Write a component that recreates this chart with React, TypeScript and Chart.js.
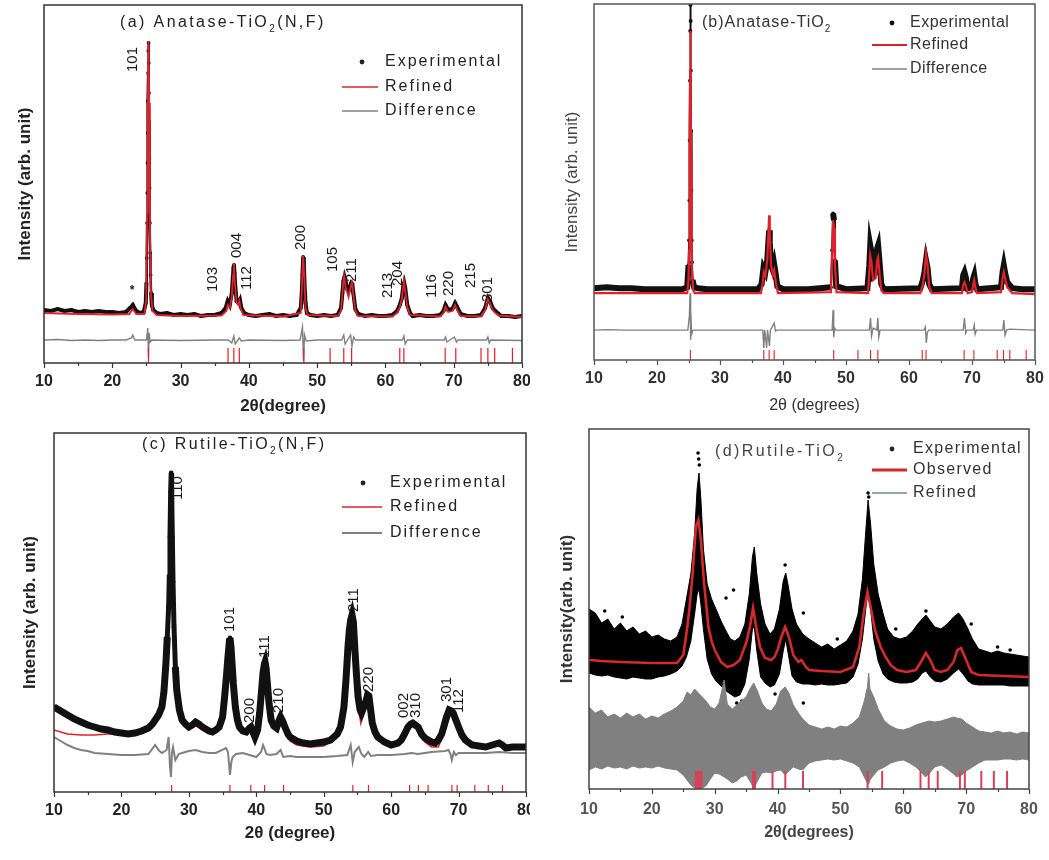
import React, { useEffect, useRef } from 'react';
import { Chart, registerables } from 'chart.js';
Chart.register(...registerables);

const FONT = '"Liberation Sans", Arial, Helvetica, sans-serif';
const RED = '#e0202a';
const GRAY = '#808080';

type Pt = [number, number];

// ---------------- (a) Anatase-TiO2(N,F) ----------------
const A_EXP: Pt[] = [[10,53],[11,52],[12,54],[13,52],[14,53],[15,51],[16,52],[17,51],[18,52],[19,51],[20,51],[21,50],[22,51],[22.6,55],[23.0,58],[23.4,53],[24.0,50],[24.6,51],[24.9,60],[25.0,80],[25.05,105],[25.1,140],[25.13,170],[25.16,200],[25.19,230],[25.22,262],[25.25,290],[25.28,312],[25.31,320],[25.34,300],[25.37,270],[25.4,240],[25.43,205],[25.46,175],[25.5,140],[25.55,110],[25.6,88],[25.68,70],[25.8,58],[26.0,53],[26.5,50],[27,49],[28,50],[29,48],[30,49],[31,48],[32,49],[33,47],[34,48],[35,48],[36,50],[36.6,55],[36.9,62],[37.2,58],[37.5,70],[37.65,85],[37.75,95],[37.82,98],[37.9,90],[38.0,78],[38.2,62],[38.5,60],[38.7,63],[38.9,55],[39.3,50],[40,48],[41,47],[42,48],[43,49],[44,47],[45,48],[46,47],[47,48],[47.6,55],[47.75,70],[47.85,88],[47.95,106],[48.05,100],[48.15,80],[48.3,60],[48.5,50],[49,48],[50,47],[51,48],[52,47],[53,48],[53.5,55],[53.7,70],[53.85,82],[54.0,86],[54.2,80],[54.4,74],[54.6,72],[54.8,76],[55.0,80],[55.15,79],[55.3,70],[55.6,54],[56,49],[57,47],[58,48],[59,47],[60,47],[61,48],[61.7,52],[62.1,58],[62.4,65],[62.6,76],[62.75,80],[62.9,75],[63.2,58],[63.6,50],[64,47],[65,48],[66,47],[67,47],[68,48],[68.5,52],[68.8,58],[69.2,53],[69.8,54],[70.2,60],[70.5,56],[71,49],[72,47],[73,47],[74,48],[74.6,55],[75.0,65],[75.3,62],[75.7,55],[76.1,52],[76.6,49],[77,47],[78,47],[79,46],[80,47]];
const A_REF: Pt[] = [[10,50],[15,49],[20,48.5],[22.5,49],[23.0,54],[23.5,49],[24.7,49],[24.95,62],[25.1,150],[25.2,260],[25.3,322],[25.4,260],[25.5,140],[25.65,70],[25.9,52],[26.5,48],[30,47],[36,47.5],[36.7,52],[36.9,58],[37.2,55],[37.5,66],[37.7,88],[37.8,99],[37.95,80],[38.2,60],[38.45,58],[38.6,62],[38.8,55],[39.2,48],[45,46.5],[47.6,50],[47.8,80],[47.95,107],[48.1,90],[48.3,55],[48.6,48],[53,47],[53.5,52],[53.8,78],[53.95,87],[54.2,75],[54.6,66],[54.9,76],[55.1,81],[55.3,68],[55.6,52],[56,47],[61,46.5],[61.7,50],[62.1,56],[62.4,64],[62.7,82],[62.9,72],[63.2,56],[63.6,48],[68,46.5],[68.5,50],[68.8,56],[69.2,51],[69.8,52],[70.2,58],[70.5,53],[71,47],[74,46.5],[74.6,53],[75.0,64],[75.3,60],[75.7,53],[76.1,50],[76.6,47.5],[80,46]];
const A_DIFF: Pt[] = [[10,23],[12,23.5],[14,22.5],[16,23],[18,22.5],[20,23],[22,23],[22.8,25],[23.0,28],[23.3,23],[25.0,23],[25.2,35],[25.3,5],[25.4,30],[25.55,21],[25.8,23],[30,22.5],[35,23],[37,23],[37.5,20],[37.8,27],[38.0,19],[38.6,25],[38.9,22],[40,23],[45,22.5],[47.5,23],[47.85,36],[48.0,2],[48.15,28],[48.4,22],[50,23],[53.6,23],[53.9,28],[54.1,19],[54.9,28],[55.1,17],[55.35,26],[55.6,23],[60,23],[62.5,23],[62.7,27],[62.9,19],[63.2,23],[68.6,23],[68.8,26],[69,21],[70.1,26],[70.4,21],[70.6,23],[74.8,23],[75.0,26],[75.2,20],[75.4,23],[80,22.5]];
const ANATASE_BRAGG = [25.3, 36.95, 37.8, 38.6, 48.05, 51.9, 53.9, 55.05, 62.1, 62.7, 68.75, 70.3, 74.0, 75.0, 76.0, 78.6];
const A_HKL: [string, number, number][] = [['101',23.06,291],['103',34.8,71],['004',38.3,105],['112',39.75,73],['200',47.65,113],['105',52.3,91],['211',55.1,81],['213',60.4,65],['204',61.85,77],['116',66.8,65],['220',69.3,67],['215',72.5,75],['301',75.0,61]];
const A_STAR: [string, number, number][] = [['*', 22.9, 72]];

// ---------------- (b) Anatase-TiO2 ----------------
const B_EXP: Pt[] = [[10,72],[12,73],[14,72],[16,72],[18,71],[20,71],[22,71],[24,71],[24.8,73],[25.0,95],[25.1,120],[25.15,160],[25.2,220],[25.24,280],[25.28,330],[25.31,356],[25.34,340],[25.37,290],[25.4,230],[25.44,170],[25.5,120],[25.55,98],[25.65,80],[25.9,73],[26.5,72],[28,71],[30,71],[32,71],[34,71],[36,71],[36.6,76],[36.9,92],[37.2,88],[37.5,100],[37.7,120],[37.8,130],[37.9,118],[38.1,95],[38.4,90],[38.6,96],[38.8,88],[39.1,74],[40,71],[44,71],[47.6,73],[47.8,110],[47.95,147],[48.1,140],[48.25,100],[48.45,74],[50,71],[53.4,72],[53.7,95],[53.85,115],[54.05,108],[54.3,85],[54.7,88],[54.95,112],[55.1,115],[55.3,100],[55.6,76],[56,71],[61.8,72],[62.2,80],[62.45,88],[62.7,100],[62.95,92],[63.2,76],[63.6,71],[68.4,72],[68.6,85],[68.8,88],[69.05,82],[69.3,72],[70.0,73],[70.2,82],[70.35,85],[70.55,76],[70.8,71],[74.6,73],[74.85,88],[75.05,95],[75.3,86],[75.6,78],[76.0,75],[76.4,72],[78,71],[80,71]];
const B_REF: Pt[] = [[10,67],[24.8,67],[25.0,80],[25.1,110],[25.15,150],[25.2,210],[25.25,290],[25.3,330],[25.35,290],[25.4,210],[25.45,150],[25.5,110],[25.6,85],[25.75,70],[26,67],[36.5,67],[36.8,78],[36.95,88],[37.2,84],[37.5,100],[37.7,130],[37.8,145],[37.9,128],[38.1,95],[38.4,85],[38.6,90],[38.85,78],[39.2,67],[47.6,68],[47.8,105],[47.95,140],[48.1,132],[48.25,95],[48.5,68],[53.5,67],[53.7,88],[53.85,105],[54.05,98],[54.3,80],[54.7,82],[54.95,100],[55.1,103],[55.3,88],[55.6,70],[56,67],[61.8,67],[62.2,76],[62.45,86],[62.7,107],[62.95,95],[63.2,74],[63.6,67],[68.4,67],[68.6,75],[68.8,78],[69.05,74],[69.3,67],[70.0,68],[70.2,76],[70.35,80],[70.55,72],[70.8,67],[74.6,68],[74.85,82],[75.05,88],[75.3,80],[75.6,73],[76.0,70],[76.4,67],[80,66]];
const B_DIFF: Pt[] = [[10,30],[12,30.5],[15,30],[20,30],[24.9,30],[25.15,45],[25.25,67],[25.3,20],[25.38,50],[25.5,26],[25.7,30],[30,30],[36.8,30],[36.95,12],[37.1,30],[37.4,12],[37.55,30],[37.85,14],[38.0,30],[38.6,37],[38.8,29],[39,30],[47.8,30],[47.95,50],[48.05,23],[48.2,32],[48.4,30],[53.7,30],[53.9,42],[54.05,24],[54.3,32],[54.9,30],[55.05,42],[55.2,23],[55.4,30],[62.4,30],[62.6,33],[62.75,17],[62.9,27],[63.1,30],[68.6,30],[68.8,42],[69.0,27],[69.2,30],[70.2,30],[70.35,35],[70.5,26],[70.7,30],[74.9,30],[75.05,40],[75.25,25],[75.5,30],[76,31],[80,30]];

// ---------------- (c) Rutile-TiO2(N,F) ----------------
const C_EXP: Pt[] = [[10,85],[11,81],[12,77],[13,73],[14,70],[15,67],[16,65],[17,63],[18,62],[19,60],[20,59],[21,58],[22,59],[23,61],[24,64],[24.6,68],[25,72],[25.5,77],[26,85],[26.3,100],[26.6,129],[26.8,155],[27.0,185],[27.1,215],[27.2,255],[27.3,300],[27.38,319],[27.45,300],[27.55,255],[27.65,210],[27.8,165],[28.0,125],[28.2,102],[28.6,82],[29,72],[29.5,68],[30,65],[30.5,67],[31,70],[31.5,68],[32,65],[33,61],[33.5,60],[34,62],[34.5,65],[35,75],[35.3,95],[35.6,118],[35.8,135],[36.0,150],[36.1,154],[36.25,145],[36.4,129],[36.6,108],[36.9,85],[37.2,72],[37.5,65],[38,61],[38.5,60],[39.0,64],[39.2,65],[39.5,60],[39.8,55],[40.2,62],[40.5,79],[40.8,103],[41.0,119],[41.2,128],[41.3,130],[41.45,124],[41.6,112],[41.9,88],[42.2,72],[42.6,66],[43.0,64],[43.4,72],[43.6,75],[43.9,71],[44.3,64],[44.7,58],[45,55],[46,51],[47,49],[48,48],[49,49],[50,50],[51,52],[52,58],[52.5,65],[53.0,85],[53.3,112],[53.6,145],[53.8,162],[54.0,172],[54.2,177],[54.4,170],[54.6,145],[54.85,118],[55.1,95],[55.4,82],[55.6,79],[55.9,84],[56.2,89],[56.5,97],[56.7,96],[57.0,80],[57.2,69],[57.6,60],[58,55],[59,50],[60,47],[61,49],[61.5,52],[62,58],[62.5,65],[62.9,68],[63.2,69],[63.6,67],[64,65],[64.5,58],[65,54],[66,50],[66.5,49],[67,52],[67.5,58],[67.8,65],[68.2,75],[68.6,82],[68.9,81],[69.2,79],[69.6,72],[70,65],[70.5,57],[71,52],[72,47],[73,46],[74,45],[75,47],[76,49],[76.5,47],[77,44],[78,45],[79,45],[80,45]];
const C_REF: Pt[] = [[10,62],[12,58],[14,57],[16,57],[18,58],[20,58],[22,59],[24,62],[25,68],[26,82],[26.6,125],[27.0,185],[27.2,255],[27.35,317],[27.5,280],[27.7,200],[28.0,125],[28.4,90],[29,70],[30,63],[31,66],[32,63],[34,60],[35,72],[35.6,115],[36.1,152],[36.6,106],[37.2,70],[38.5,58],[39.2,63],[39.8,56],[40.5,76],[41.25,127],[42,80],[42.6,64],[43.6,72],[44.5,58],[45,51],[46,47],[48,45],[50,46],[52,55],[53,82],[53.6,142],[54.2,175],[54.6,142],[55.1,88],[55.5,69],[56.0,80],[56.6,92],[57.2,66],[58,52],[60,45],[62,55],[63,66],[64,62],[65,50],[66,45],[67,45],[68,62],[68.8,78],[69.6,70],[70.5,54],[72,45],[76,46],[80,43]];
const C_DIFF: Pt[] = [[10,55],[11,51],[12,47],[13,44],[14,42],[15,41],[16,39],[18,38],[20,37],[22,37],[24,38],[25,47],[25.5,42],[26,39],[26.7,42],[27.0,55],[27.2,25],[27.35,15],[27.5,40],[27.65,45],[28,32],[28.5,38],[29,39],[30,41],[31,42],[32,40],[33,39],[34,39],[35.5,44],[35.8,40],[36.0,25],[36.1,17],[36.3,30],[36.5,35],[37,38],[38,39],[39,37],[40,35],[40.7,40],[41.0,47],[41.3,42],[41.5,38],[42,37],[43,38],[43.6,42],[44,35],[45,36],[46,35],[48,35],[50,35],[52,36],[53.5,37],[54.0,47],[54.3,30],[54.6,40],[55.2,45],[55.6,38],[56,35],[56.6,40],[57,36],[58,37],[60,37],[62,38],[63,39],[64,38],[66,40],[68,41],[68.5,42],[68.8,38],[69,32],[69.3,40],[69.6,37],[70,39],[72,39],[74,39],[76,40],[78,39],[80,39]];
const RUTILE_BRAGG = [27.45, 36.09, 39.19, 41.23, 44.05, 54.32, 56.64, 62.74, 64.04, 65.48, 69.01, 69.79, 72.41, 74.41, 76.51];
const C_HKL: [string, number, number][] = [['110',28.3,292],['101',36.05,160],['200',39.0,69],['111',41.2,134],['210',43.4,79],['211',54.5,180],['220',56.7,100],['002',61.9,74],['310',63.6,74],['301',68.3,90],['112',70.0,79]];

// ---------------- (d) Rutile-TiO2 ----------------
const D_EXP_X = [10,11,12,13,14,15,16,17,18,19,20,21,22,23,24,24.8,25.5,26.2,26.8,27.2,27.5,27.8,28.2,28.8,29.5,30.2,31,31.8,32.5,33.2,34,34.8,35.5,36.0,36.3,36.7,37.3,38,38.8,39.5,40.3,40.9,41.3,41.7,42.3,43,44,45,46,47,48,49,50,51,52,52.8,53.5,54.0,54.4,54.8,55.3,56,56.8,57.5,58.5,59.5,60.5,61.5,62.3,63,63.6,64.3,65,66,67,68,68.8,69.5,70.3,71,72,73,74,75,76,77,78,79,80];
const D_EXP_HI = [180,176,166,170,160,166,158,162,155,158,152,154,150,148,152,165,190,215,255,300,316,290,240,205,190,180,168,158,150,148,152,165,195,232,242,215,185,165,155,160,180,208,216,203,180,165,155,150,146,142,145,140,144,148,158,175,210,255,289,265,225,195,175,160,152,150,152,158,165,170,174,168,162,160,165,172,176,170,160,150,140,138,136,138,136,135,134,133,132];
const D_EXP_LO = [116,114,113,114,112,111,110,112,111,110,110,112,113,115,118,123,132,148,175,195,200,185,160,130,115,108,103,98,95,92,94,105,130,160,162,138,112,106,102,104,115,138,150,135,113,107,105,105,104,105,104,104,105,106,112,125,150,178,200,180,150,128,115,110,107,106,106,107,110,116,118,112,108,107,110,116,120,115,108,105,104,104,104,104,104,103,103,103,103];
const D_EXP_OUT: Pt[] = [[12.5,178],[15.3,172],[27.35,336],[27.45,330],[27.55,324],[31.8,191],[33.0,199],[33.5,86],[34.3,88],[39.6,95],[41.2,224],[44.1,176],[44.1,86],[49.5,150],[54.4,296],[54.5,292],[58.8,160],[63.6,178],[70.8,165],[75.0,142],[77.0,139]];
const D_REF: Pt[] = [[10,129],[12,128],[15,127],[20,126],[24,126],[25,134],[25.6,160],[26,182],[26.5,216],[27.0,262],[27.4,269],[27.8,249],[28.3,206],[29,162],[29.5,148],[30,139],[31,127],[32,122],[33,124],[34,129],[35,146],[35.6,162],[36.1,181],[36.6,162],[37.2,142],[38,131],[39,129],[39.5,132],[40,139],[40.6,152],[41.2,162],[41.8,152],[42.5,134],[43.3,127],[43.8,129],[44.5,122],[45,119],[47,118],[50,117],[52,122],[53,142],[53.7,176],[54.3,197],[54.8,182],[55.5,159],[56.4,142],[57.2,132],[58,124],[59,119],[60.5,117],[62,119],[62.8,127],[63.6,136],[64.3,129],[65,119],[66,117],[67,119],[68,127],[68.6,139],[69.2,141],[70,129],[70.8,117],[72,114],[76,113],[80,112]];
const D_DIFF_X = [10,11,12,13,14,15,16,17,18,19,20,21,22,23,24,25,25.6,26.2,26.8,27.4,28,28.6,29.3,30,30.7,31.5,32,32.8,33.5,34.2,35,35.6,36.2,36.8,37.5,38.2,39,39.8,40.5,41.2,41.8,42.5,43.3,44,45,46,47,48,49,50,51,52,53,53.8,54.3,54.5,54.7,55.3,56,57,58,59,60,61,62,63,63.5,64.2,65,66,67,68,68.5,69.3,70,71,72,73,74,75,76,77,78,79,80];
const D_DIFF_HI = [82,76,79,72,75,71,76,72,75,70,73,71,75,78,82,88,97,94,100,96,92,88,82,80,86,109,85,80,84,88,92,100,106,98,86,80,78,85,98,102,96,84,76,70,64,62,60,62,60,63,62,66,72,88,102,116,100,92,80,68,63,60,59,61,64,66,67,68,67,68,70,72,71,70,66,62,58,57,56,58,56,57,55,57,56];
const D_DIFF_LO = [19,22,20,23,21,22,20,23,21,22,21,23,21,20,19,14,9,4,1,0,1,3,10,16,15,12,10,6,8,12,14,8,1,8,16,17,16,18,19,14,18,22,20,19,26,28,29,30,29,30,28,26,22,12,6,5,9,14,19,22,26,28,29,26,22,16,12,16,22,24,20,15,12,14,18,22,26,29,29,29,30,30,29,30,29];
const D_BRAGG = [27.0, 27.3, 27.6, 27.9, 36.1, 36.4, 39.19, 41.23, 44.05, 54.32, 56.64, 62.74, 64.04, 65.48, 69.01, 69.79, 72.41, 74.41, 76.51];

// ---------------- helpers ----------------
const pts = (a: Pt[]) => a.map(([x, y]) => ({ x, y }));
const zip = (xs: number[], ys: number[]) => xs.map((x, i) => ({ x, y: ys[i] }));
const sticks = (pos: number[], h: number) => pos.flatMap((p) => [{ x: p, y: 0 }, { x: p, y: h }, { x: p, y: null as any }]);

const lineDs = (data: any[], color: string, width: number, order: number, extra: any = {}) => ({
  data, borderColor: color, backgroundColor: color, borderWidth: width, pointRadius: 0,
  tension: 0, spanGaps: false, order, ...extra,
});

// thinner stroke on steep peak flanks, thick dense band on the flat background
const slopeWidth = (flat: number, steep: number, limit: number) => ({
  borderWidth: (c: any) => {
    const dx = Math.abs(c.p1.parsed.x - c.p0.parsed.x) || 1e-6;
    const dy = Math.abs(c.p1.parsed.y - c.p0.parsed.y);
    return dy / dx > limit ? steep : flat;
  },
});

function drawSpaced(ctx: CanvasRenderingContext2D, text: string, x: number, y: number, spacing: number) {
  (ctx as any).letterSpacing = spacing + 'px';
  ctx.fillText(text, x, y);
  const w = ctx.measureText(text).width;
  (ctx as any).letterSpacing = '0px';
  return w;
}

function makeDecor(d: any) {
  return {
    id: 'decor',
    afterDraw(chart: any) {
      const { ctx, chartArea: ca, scales } = chart;
      const xs = scales.x, ys = scales.y;
      ctx.save();
      ctx.strokeStyle = d.frame;
      ctx.lineWidth = 1.5;
      ctx.strokeRect(ca.left, ca.top, ca.right - ca.left, ca.bottom - ca.top);
      ctx.lineWidth = 1.2;
      for (let v = 10; v <= 80; v += 5) {
        const px = Math.round(xs.getPixelForValue(v)) + 0.5;
        const len = v % 10 === 0 ? 5 : 3;
        ctx.beginPath();
        ctx.moveTo(px, ca.bottom);
        ctx.lineTo(px, ca.bottom + len);
        ctx.stroke();
      }
      ctx.fillStyle = d.title.color;
      ctx.textBaseline = 'middle';
      ctx.textAlign = 'left';
      let tx = d.title.x;
      for (const part of d.title.parts) {
        const sz = part.sub ? Math.round(d.title.size * 0.62) : d.title.size;
        ctx.font = `${d.title.weight || 'normal'} ${sz}px ${FONT}`;
        const ty = part.sub ? d.title.y + d.title.size * 0.38 : d.title.y;
        tx += drawSpaced(ctx, part.t, tx, ty, d.title.spacing);
      }
      const lg = d.legend;
      for (const row of lg.rows) {
        if (row.kind === 'dot') {
          ctx.fillStyle = row.color;
          ctx.beginPath();
          ctx.arc(lg.dotX, row.y, 2.4, 0, Math.PI * 2);
          ctx.fill();
        } else {
          ctx.strokeStyle = row.color;
          ctx.lineWidth = row.width;
          ctx.beginPath();
          ctx.moveTo(lg.lineX1, row.y);
          ctx.lineTo(lg.lineX2, row.y);
          ctx.stroke();
        }
        ctx.fillStyle = lg.color;
        ctx.font = `${lg.weight || 'normal'} ${lg.size}px ${FONT}`;
        drawSpaced(ctx, row.label, lg.textX, row.y, lg.spacing);
      }
      if (d.hkl) {
        ctx.fillStyle = d.hkl.color;
        ctx.font = `normal ${d.hkl.size}px ${FONT}`;
        for (const [txt, xv, yv] of d.hkl.items) {
          ctx.save();
          ctx.translate(xs.getPixelForValue(xv), ys.getPixelForValue(yv));
          ctx.rotate(-Math.PI / 2);
          ctx.textAlign = 'left';
          ctx.textBaseline = 'middle';
          ctx.fillText(txt, 0, 0);
          ctx.restore();
        }
      }
      if (d.marks) {
        ctx.fillStyle = '#1a1a1a';
        ctx.font = `bold 12px ${FONT}`;
        ctx.textAlign = 'center';
        ctx.textBaseline = 'middle';
        for (const [txt, xv, yv] of d.marks) ctx.fillText(txt, xs.getPixelForValue(xv), ys.getPixelForValue(yv));
      }
      ctx.restore();
    },
  };
}

function buildConfig(p: any) {
  return {
    type: 'line',
    data: { datasets: p.datasets },
    options: {
      animation: false,
      responsive: false,
      events: [],
      layout: { padding: { left: 0, top: p.padTop, right: p.padRight, bottom: 0 } },
      plugins: { legend: { display: false }, tooltip: { enabled: false } },
      scales: {
        x: {
          type: 'linear', min: 10, max: 80,
          afterFit: (s: any) => { s.height = p.xAxisH; s.paddingLeft = 0; s.paddingRight = 0; },
          grid: { display: false }, border: { display: false },
          ticks: { stepSize: 10, autoSkip: false, maxRotation: 0, padding: p.tickPad, color: p.tickColor,
            font: { family: FONT, size: 16, weight: 'bold' } },
          title: { display: true, text: p.xTitle, color: p.xTitleColor,
            font: { family: FONT, size: p.xTitleSize, weight: p.xTitleWeight }, padding: { top: 0, bottom: p.xTitlePad } },
        },
        y: {
          min: 0, max: p.ymax,
          afterFit: (s: any) => { s.width = p.yAxisW; s.paddingTop = 0; s.paddingBottom = 0; },
          grid: { display: false }, border: { display: false },
          ticks: { display: false },
          title: { display: true, text: p.yTitle, color: p.yTitleColor,
            font: { family: FONT, size: 17, weight: p.yTitleWeight }, padding: { top: p.yTitlePad, bottom: 0 } },
        },
      },
    },
    plugins: [makeDecor(p.decor)],
  };
}

const PANELS: any[] = [
  {
    key: 'a', left: 0, top: 0, w: 530, h: 420, padTop: 5, padRight: 8, yAxisW: 44, xAxisH: 57, ymax: 358,
    tickPad: 1, tickColor: '#222', xTitle: '2θ(degree)', xTitleColor: '#222', xTitleSize: 17, xTitleWeight: 'bold', xTitlePad: 3,
    yTitle: 'Intensity (arb. unit)', yTitleColor: '#222', yTitleWeight: 'bold', yTitlePad: 15,
    datasets: [
      lineDs(pts(A_EXP), '#111', 4, 4, { pointRadius: 1.9, pointBorderWidth: 0, pointBackgroundColor: '#111', segment: slopeWidth(4, 2.5, 200) }),
      lineDs(pts(A_REF), RED, 1.8, 3),
      lineDs(pts(A_DIFF), GRAY, 1.4, 2),
      lineDs(sticks(ANATASE_BRAGG, 15), RED, 1.2, 1),
    ],
    decor: {
      frame: '#333',
      title: { x: 120, y: 23, size: 16, spacing: 2.4, color: '#222', parts: [{ t: '(a) Anatase-TiO' }, { t: '2', sub: true }, { t: '(N,F)' }] },
      legend: { dotX: 362, lineX1: 342, lineX2: 378, textX: 385, size: 16, spacing: 2, color: '#222',
        rows: [{ y: 62, kind: 'dot', color: '#222', label: 'Experimental' }, { y: 87, kind: 'line', color: RED, width: 1.6, label: 'Refined' }, { y: 111, kind: 'line', color: GRAY, width: 1.6, label: 'Difference' }] },
      hkl: { size: 15, color: '#1a1a1a', items: A_HKL },
      marks: A_STAR,
    },
  },
  {
    key: 'b', left: 530, top: 0, w: 519, h: 420, padTop: 3, padRight: 14, yAxisW: 64, xAxisH: 60, ymax: 357,
    tickPad: 1, tickColor: '#333', xTitle: '2θ (degrees)', xTitleColor: '#333', xTitleSize: 16, xTitleWeight: 'normal', xTitlePad: 5,
    yTitle: 'Intensity (arb. unit)', yTitleColor: '#444', yTitleWeight: 'normal', yTitlePad: 32,
    datasets: [
      lineDs(pts(B_EXP), '#111', 6, 4, { pointRadius: 2, pointBorderWidth: 0, pointBackgroundColor: '#111', segment: slopeWidth(6, 2, 150) }),
      lineDs(pts(B_REF), RED, 2.2, 3),
      lineDs(pts(B_DIFF), GRAY, 1.4, 2),
      lineDs(sticks(ANATASE_BRAGG, 10), RED, 1.1, 1),
    ],
    decor: {
      frame: '#555',
      title: { x: 172, y: 23, size: 16, spacing: 1, color: '#333', parts: [{ t: '(b)Anatase-TiO' }, { t: '2', sub: true }] },
      legend: { dotX: 362, lineX1: 342, lineX2: 377, textX: 380, size: 16, spacing: 0.5, color: '#333',
        rows: [{ y: 23, kind: 'dot', color: '#111', label: 'Experimental' }, { y: 45, kind: 'line', color: RED, width: 1.8, label: 'Refined' }, { y: 69, kind: 'line', color: GRAY, width: 1.5, label: 'Difference' }] },
    },
  },
  {
    key: 'c', left: 0, top: 420, w: 530, h: 440, padTop: 13, padRight: 3, yAxisW: 54, xAxisH: 68, ymax: 359,
    tickPad: 1, tickColor: '#222', xTitle: '2θ (degree)', xTitleColor: '#222', xTitleSize: 17, xTitleWeight: 'bold', xTitlePad: 16,
    yTitle: 'Intensity (arb. unit)', yTitleColor: '#222', yTitleWeight: 'bold', yTitlePad: 20,
    datasets: [
      lineDs(pts(C_EXP), '#111', 7, 4, { pointRadius: 2.4, pointBorderWidth: 0, pointBackgroundColor: '#111', segment: slopeWidth(7, 5, 150) }),
      lineDs(pts(C_REF), RED, 1.6, 5),
      lineDs(pts(C_DIFF), GRAY, 2, 2),
      lineDs(sticks(RUTILE_BRAGG, 7), RED, 1.2, 1),
    ],
    decor: {
      frame: '#333',
      title: { x: 142, y: 25, size: 16, spacing: 2.4, color: '#222', parts: [{ t: '(c) Rutile-TiO' }, { t: '2', sub: true }, { t: '(N,F)' }] },
      legend: { dotX: 363, lineX1: 342, lineX2: 382, textX: 390, size: 16, spacing: 2, color: '#222',
        rows: [{ y: 63, kind: 'dot', color: '#222', label: 'Experimental' }, { y: 87, kind: 'line', color: RED, width: 1.6, label: 'Refined' }, { y: 113, kind: 'line', color: GRAY, width: 1.8, label: 'Difference' }] },
      hkl: { size: 15, color: '#1a1a1a', items: C_HKL },
    },
  },
  {
    key: 'd', left: 530, top: 420, w: 519, h: 440, padTop: 9, padRight: 20, yAxisW: 59, xAxisH: 71, ymax: 360,
    tickPad: 3, tickColor: '#555', xTitle: '2θ(degrees)', xTitleColor: '#444', xTitleSize: 16, xTitleWeight: 'bold', xTitlePad: 18,
    yTitle: 'Intensity(arb. unit)', yTitleColor: '#333', yTitleWeight: 'bold', yTitlePad: 27,
    datasets: [
      lineDs(zip(D_EXP_X, D_EXP_HI), '#000', 1, 6, { fill: '+1', backgroundColor: '#000' }),
      lineDs(zip(D_EXP_X, D_EXP_LO), '#000', 1, 6),
      lineDs(pts(D_EXP_OUT), '#000', 0, 6, { showLine: false, pointRadius: 1.8, pointBorderWidth: 0, pointBackgroundColor: '#000' }),
      lineDs(pts(D_REF), '#d42a2a', 2.6, 3),
      lineDs(zip(D_DIFF_X, D_DIFF_HI), GRAY, 1, 4, { fill: '+1', backgroundColor: GRAY }),
      lineDs(zip(D_DIFF_X, D_DIFF_LO), GRAY, 1, 4),
      lineDs(sticks(D_BRAGG, 18), '#d8405a', 2, 1),
    ],
    decor: {
      frame: '#444',
      title: { x: 185, y: 32, size: 16, spacing: 2.4, color: '#444', parts: [{ t: '(d)Rutile-TiO' }, { t: '2', sub: true }] },
      legend: { dotX: 362, lineX1: 342, lineX2: 377, textX: 383, size: 16, spacing: 1.3, color: '#333',
        rows: [{ y: 29, kind: 'dot', color: '#222', label: 'Experimental' }, { y: 50, kind: 'line', color: '#d42a2a', width: 3, label: 'Observed' }, { y: 73, kind: 'line', color: '#6f8f80', width: 1.5, label: 'Refined' }] },
    },
  },
];

function Panel({ spec }: { spec: any }) {
  const ref = useRef<HTMLCanvasElement>(null);
  useEffect(() => {
    const chart = new Chart(ref.current as HTMLCanvasElement, buildConfig(spec) as any);
    return () => chart.destroy();
  }, [spec]);
  return (
    <canvas ref={ref} width={spec.w} height={spec.h}
      style={{ position: 'absolute', left: spec.left, top: spec.top, width: spec.w, height: spec.h }} />
  );
}

export default function App() {
  return (
    <div style={{ position: 'fixed', left: 0, top: 0, width: 1049, height: 860, background: '#fff', overflow: 'hidden' }}>
      {PANELS.map((p) => <Panel key={p.key} spec={p} />)}
    </div>
  );
}
